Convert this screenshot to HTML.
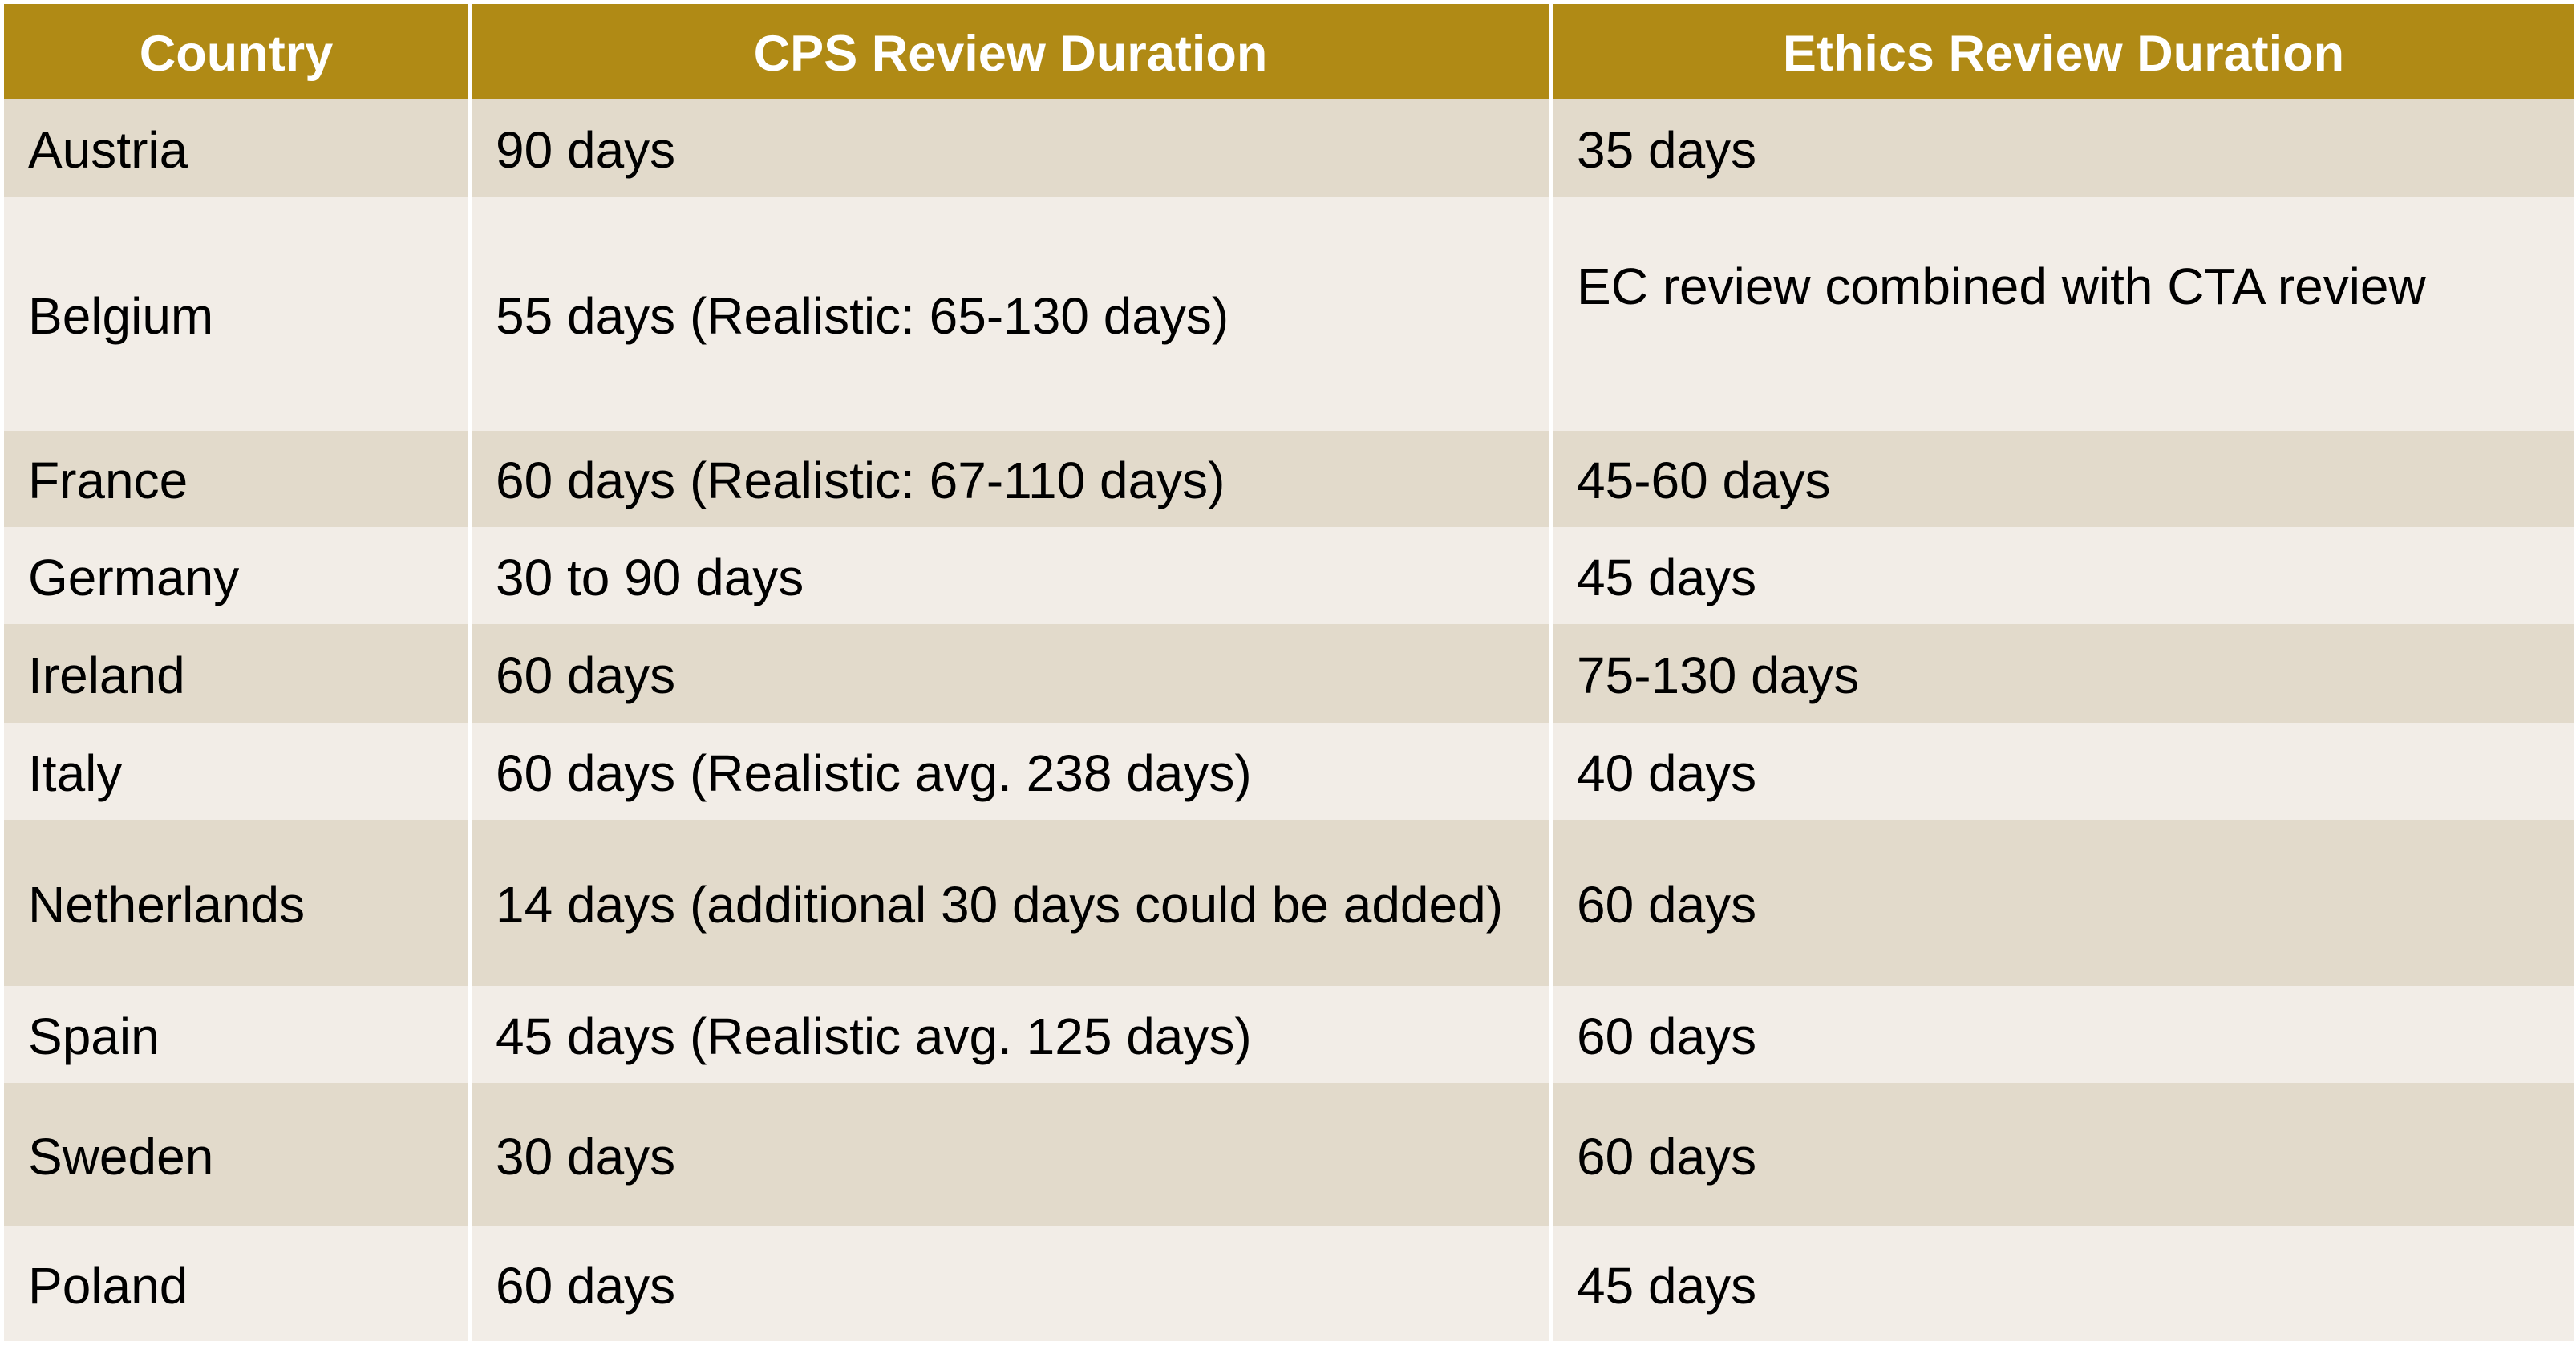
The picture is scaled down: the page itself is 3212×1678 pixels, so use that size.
<!DOCTYPE html>
<html><head><meta charset="utf-8"><style>
html,body{margin:0;padding:0;background:#fff;width:3212px;height:1678px;overflow:hidden}
.c{position:absolute;box-sizing:border-box;font-family:"Liberation Sans",Arial,sans-serif;font-size:64px;color:#000;display:flex;align-items:center;padding-left:30px;padding-top:4px;white-space:nowrap;letter-spacing:0}
.h{background:#B08A15;color:#fff;font-weight:bold;justify-content:center;padding-left:0;font-size:63px;letter-spacing:0}
.d{background:#E2DACB}.l{background:#F2EDE7}
</style></head><body>
<div id="t"></div>
<script>
var rows=[[5,124,'h',['Country','CPS Review Duration','Ethics Review Duration']],
[124,246,'d',['Austria','90 days','35 days']],
[246,537,'l',['Belgium','55 days (Realistic: 65-130 days)','EC review combined with CTA review']],
[537,657,'d',['France','60 days (Realistic: 67-110 days)','45-60 days']],
[657,778,'l',['Germany','30 to 90 days','45 days']],
[778,901,'d',['Ireland','60 days','75-130 days']],
[901,1022,'l',['Italy','60 days (Realistic avg. 238 days)','40 days']],
[1022,1229,'d',['Netherlands','14 days (additional 30 days could be added)','60 days']],
[1229,1350,'l',['Spain','45 days (Realistic avg. 125 days)','60 days']],
[1350,1529,'d',['Sweden','30 days','60 days']],
[1529,1672,'l',['Poland','60 days','45 days']]];
var cols=[[5,584],[588,1932],[1936,3210]];
var h='';
rows.forEach(function(r,i){cols.forEach(function(c,j){
var st='left:'+c[0]+'px;width:'+(c[1]-c[0])+'px;top:'+r[0]+'px;height:'+(r[1]-r[0])+'px;';
if(i==2&&j==2)st+='align-items:flex-start;padding-top:74px;';
h+='<div class="c '+r[2]+'" style="'+st+'">'+r[3][j]+'</div>';});});
document.getElementById('t').innerHTML=h;
</script>
</body></html>
